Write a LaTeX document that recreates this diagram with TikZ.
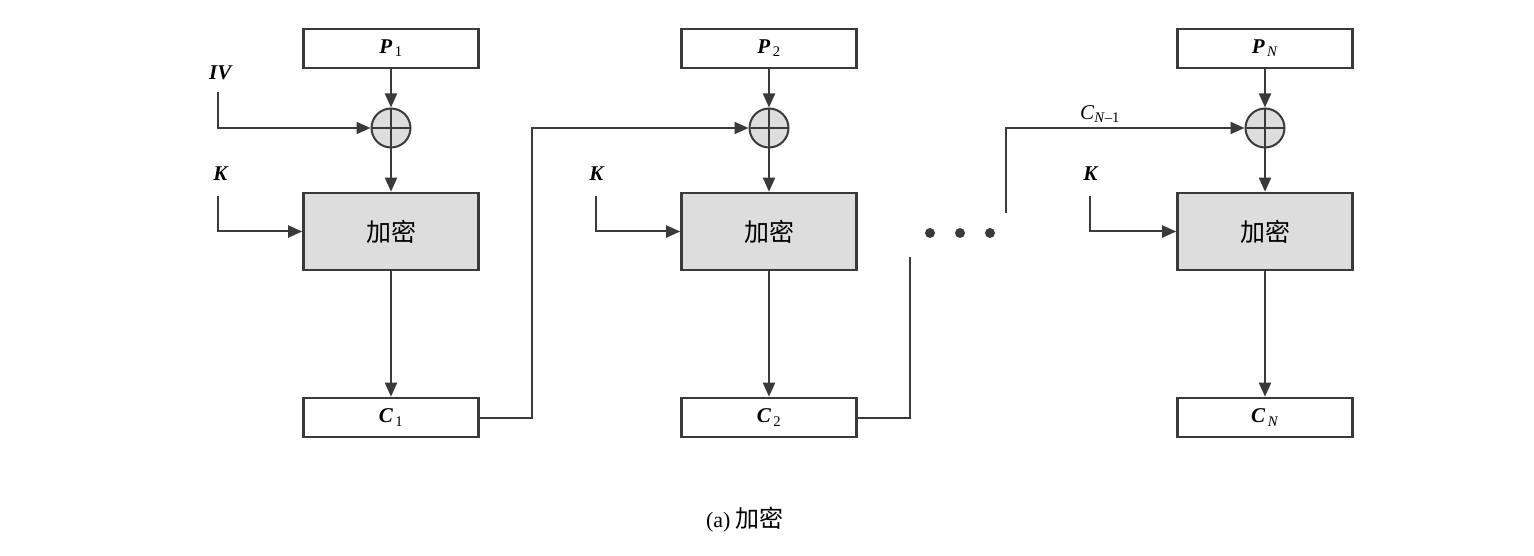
\documentclass[tikz,border=0pt]{standalone}
\usepackage{fontspec}
\setmainfont{Liberation Serif}
\newfontfamily\cjk{Noto Sans CJK SC}
\usetikzlibrary{arrows.meta}
\definecolor{ln}{HTML}{3A3A3A}
\definecolor{fillg}{HTML}{DDDDDD}
\newcommand\vlab[2]{\textbf{\textit{#1}}\textsubscript{\,#2}}
\tikzset{
  databox/.style={draw=ln, line width=2.6pt, minimum width=175pt, minimum height=39pt, inner sep=0pt, font=\fontsize{21}{22}\selectfont},
  encbox/.style={draw=ln, fill=fillg, line width=2.6pt, minimum width=175pt, minimum height=77pt, inner sep=0pt, font=\cjk\fontsize{25}{26}\selectfont},
  xorc/.style={draw=ln, fill=fillg, line width=2pt, circle, minimum size=39pt, inner sep=0pt,
     path picture={\draw[ln, line width=1.6pt] (path picture bounding box.north) -- (path picture bounding box.south) (path picture bounding box.west) -- (path picture bounding box.east);}},
  conn/.style={draw=ln, line width=2pt},
  arr/.style={conn, -{Triangle[length=14pt,width=12pt]}},
  lbl/.style={font=\fontsize{21}{22}\selectfont, inner sep=0pt},
  dotc/.style={circle, fill=ln, minimum size=10pt, inner sep=0pt}
}
\begin{document}
\begin{tikzpicture}[x=1pt,y=-1pt]
\useasboundingbox (0,0) rectangle (1534,556);
% column 1
\node[databox] (p1) at (391,48.5) {\vlab{P}{1}};
\node[xorc] (x1) at (391,128) {};
\node[encbox] (e1) at (391,231.5) {加密};
\node[databox] (c1) at (391,417.5) {\vlab{C}{1}};
% column 2
\node[databox] (p2) at (769,48.5) {\vlab{P}{2}};
\node[xorc] (x2) at (769,128) {};
\node[encbox] (e2) at (769,231.5) {加密};
\node[databox] (c2) at (769,417.5) {\vlab{C}{2}};
% column 3
\node[databox] (p3) at (1265,48.5) {\vlab{P}{\textit{N}}};
\node[xorc] (x3) at (1265,128) {};
\node[encbox] (e3) at (1265,231.5) {加密};
\node[databox] (c3) at (1265,417.5) {\vlab{C}{\textit{N}}};
% labels
\node[lbl] (iv) at (221,73) {\textbf{\textit{IV}}};
\node[lbl] (k1) at (221,174) {\textbf{\textit{K}}};
\node[lbl] (k2) at (597,174) {\textbf{\textit{K}}};
\node[lbl] (k3) at (1091,174) {\textbf{\textit{K}}};
\node[lbl] (cn1) at (1100,114) {\textit{C}\textsubscript{\textit{N}–1}};
% coordinates
\coordinate (ivs) at (218,92);
\coordinate (k1s) at (218,196);
\coordinate (k2s) at (596,196);
\coordinate (k3s) at (1090,196);
\coordinate (c1t) at (532,128);
\coordinate (c2e) at (910,257);
\coordinate (cns) at (1006,213);
% dots
\node[dotc] (d1) at (930,233) {};
\node[dotc] (d2) at (960,233) {};
\node[dotc] (d3) at (990,233) {};
% arrows vertical
\foreach \i in {1,2,3}{
  \draw[arr] (p\i) -- (x\i);
  \draw[arr] (x\i) -- (e\i);
  \draw[arr] (e\i) -- (c\i);
}
\draw[arr] (ivs) |- (x1);
\draw[arr] (k1s) |- (e1);
\draw[arr] (k2s) |- (e2);
\draw[arr] (k3s) |- (e3);
\draw[arr] (c1.east) -| (c1t) -- (x2);
\draw[conn] (c2.east) -| (c2e);
\draw[arr] (cns) |- (x3);
% caption
\node[font=\fontsize{22}{24}\selectfont] (cap) at (745,520) {(a) {\cjk\fontsize{24}{26}\selectfont 加密}};
\end{tikzpicture}
\end{document}
